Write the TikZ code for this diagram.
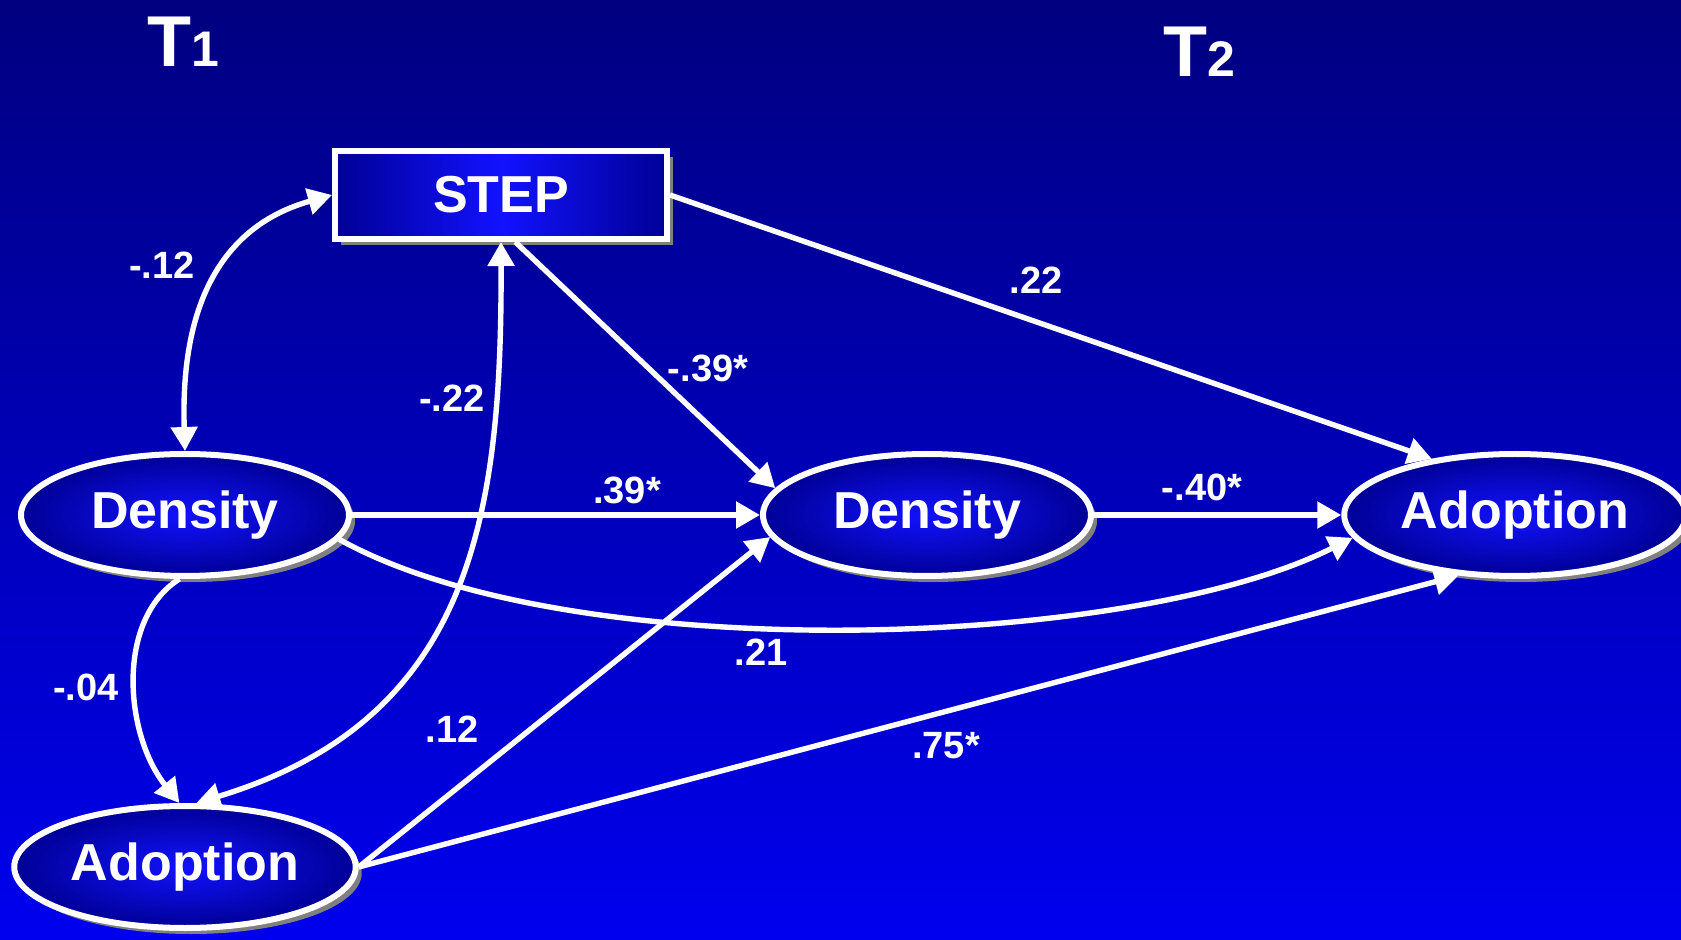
\documentclass[tikz,border=0pt]{standalone}
\usepackage{fontspec}
\setmainfont{Liberation Sans}
\usepackage{xcolor}
\usepackage{tikz}
\usetikzlibrary{arrows, arrows.meta, positioning, shapes.geometric, shadows}

\definecolor{bgtop}{RGB}{0,0,128}
\definecolor{bgbot}{RGB}{0,0,238}
\definecolor{boxdark}{RGB}{0,0,150}
\definecolor{boxlight}{RGB}{18,18,255}

\begin{document}
\begin{tikzpicture}[x=0.5pt, y=-0.5pt,
		ovalnode/.style={ellipse, draw=white, line width=3pt, inner color=boxlight, outer color=boxdark, minimum width=164pt, minimum height=61pt, text=white, font=\fontsize{26}{30}\selectfont\bfseries, drop shadow={shadow xshift=3pt, shadow yshift=-3pt, fill=gray, opacity=1}},
		boxnode/.style={rectangle, draw=white, line width=3pt, left color=boxdark, right color=boxdark, middle color=boxlight, minimum width=166pt, minimum height=44pt, text=white, font=\fontsize{26}{30}\selectfont\bfseries, drop shadow={shadow xshift=3pt, shadow yshift=-3pt, fill=gray, opacity=1}},
		link/.style={draw=white, line width=2.7pt, -{Triangle[length=12pt,width=13pt]}},
		dlink/.style={link, {Triangle[length=12pt,width=13pt]}-{Triangle[length=12pt,width=13pt]}},
		coef/.style={text=white, inner sep=0pt, font=\fontsize{19}{22}\selectfont\bfseries},
		tlab/.style={text=white, inner sep=0pt, anchor=base west, font=\fontsize{36}{40}\selectfont\bfseries}]
			\useasboundingbox (0,0) rectangle (1681,940);
			\shade [top color=bgtop, bottom color=bgbot] (0,0) rectangle (1681,940);

			\node [tlab] (t1) at (147,67) {T{\fontsize{25}{28}\selectfont 1}};
			\node [tlab] (t2) at (1163,77) {T{\fontsize{25}{28}\selectfont 2}};

			\node [boxnode] (step) at (501,195) {STEP};
			\node [ovalnode] (d1) at (185,515) {Density};
			\node [ovalnode] (a1) at (185,867) {Adoption};
			\node [ovalnode] (d2) at (927,515) {Density};
			\node [ovalnode, minimum width=161pt] (a2) at (1515,515) {Adoption};

			\draw [dlink] (d1.north) .. controls (180,300) and (225,225) .. (step.west);
			\draw [dlink] (step.south) .. controls (502,520) and (470,720) .. (a1.80);
			\draw [link] (step.-73) -- (d2.170);
			\draw [link] (step.east) -- (a2.146);
			\draw [link] (d1.east) -- (d2.west);
			\draw [link] (d1.-9) .. controls (570,668) and (1130,650) .. (a2.188);
			\draw [link] (d2.east) -- (a2.west);
			\draw [link] (d1.-95) .. controls (115,620) and (125,735) .. (a1.95);
			\draw [link] (a1.east) -- (d2.188);
			\draw [link] (a1.east) -- (a2.227);

			\node [coef] (sd1) at (162,265) {-.12};
			\node [coef] (sa1) at (452,398) {-.22};
			\node [coef] (sd2) at (708,368) {-.39*};
			\node [coef] (sa2) at (1036,280) {.22};
			\node [coef] (dd) at (627,490) {.39*};
			\node [coef] (da) at (1202,487) {-.40*};
			\node [coef] (d1a2) at (761,652) {.21};
			\node [coef] (d1a1) at (86,687) {-.04};
			\node [coef] (a1d2) at (452,729) {.12};
			\node [coef] (aa) at (946,746) {.75*};
		\end{tikzpicture}
\end{document}
